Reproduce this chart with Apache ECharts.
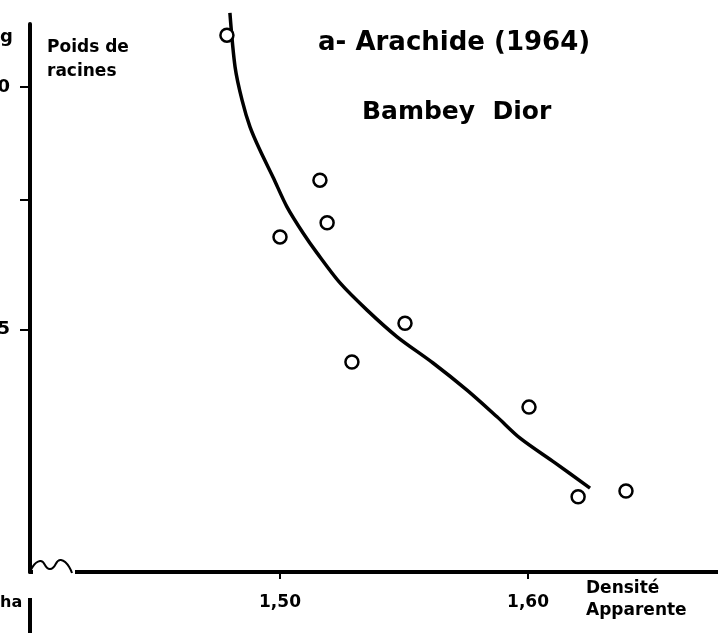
<!DOCTYPE html>
<html>
<head>
<meta charset="utf-8">
<script src="https://cdn.jsdelivr.net/npm/echarts@6/dist/echarts.min.js"></script>
<style>
html,body{margin:0;padding:0;background:#fff;}
#chart{width:718px;height:633px;}
</style>
</head>
<body>
<div id="chart"></div>
<script>
// Observed points (densité apparente, poids de racines)
const densite = [1.4786, 1.5000, 1.5161, 1.5190, 1.5290, 1.5504, 1.6004, 1.6202, 1.6395];
const poids   = [11.07, 6.91, 8.08, 7.20, 4.33, 5.13, 3.40, 1.55, 1.67];

// Fitted curve
const courbeX = [1.4798, 1.4819, 1.4847, 1.4879, 1.4919, 1.4972, 1.5028, 1.5093, 1.5149, 1.5242, 1.5351, 1.5472, 1.5617, 1.5754, 1.5875, 1.5968, 1.6109, 1.6250];
const courbeY = [11.53, 10.41, 9.73, 9.18, 8.70, 8.14, 7.53, 6.99, 6.58, 5.96, 5.40, 4.85, 4.31, 3.75, 3.20, 2.76, 2.25, 1.73];

// Axis ticks and labels
const xTicks = [1.50, 1.60];
const yTicks = [5, 7.67, 10];
const yLabels = [5, 10];

const FONT = 'DejaVu Sans';

const chart = echarts.init(document.getElementById('chart'), null, {renderer: 'canvas'});

const option = {
  animation: false,
  backgroundColor: '#ffffff',
  grid: {left: 30, right: 0, top: 24, bottom: 61, containLabel: false, outerBoundsMode: 'none'},
  xAxis: {
    type: 'value',
    min: 1.3992,
    max: 1.6766,
    splitLine: {show: false},
    axisLine: {show: true, lineStyle: {color: '#000', width: 4}},
    axisTick: {show: true, customValues: xTicks, length: 7, lineStyle: {color: '#000', width: 2}},
    axisLabel: {
      show: true, customValues: xTicks, margin: 22,
      formatter: v => v.toFixed(2).replace('.', ','),
      color: '#000', fontFamily: FONT, fontWeight: 'bold', fontSize: 17
    }
  },
  yAxis: {
    type: 'value',
    min: 0,
    max: 11.3,
    splitLine: {show: false},
    axisLine: {show: true, lineStyle: {color: '#000', width: 4}},
    axisTick: {show: true, customValues: yTicks, length: 10, lineStyle: {color: '#000', width: 2}},
    axisLabel: {
      show: true, customValues: yLabels, margin: 20,
      color: '#000', fontFamily: FONT, fontWeight: 'bold', fontSize: 18
    }
  },
  series: [
    {
      type: 'line',
      data: courbeX.map((x, i) => [x, courbeY[i]]),
      smooth: 0.3,
      showSymbol: false,
      clip: false,
      lineStyle: {color: '#000', width: 3.5},
      z: 2
    },
    {
      type: 'scatter',
      data: densite.map((x, i) => [x, poids[i]]),
      symbol: 'circle',
      symbolSize: 13,
      itemStyle: {color: '#fff', borderColor: '#000', borderWidth: 2.5, opacity: 1},
      z: 3
    }
  ],
  graphic: [
    // axis break: hide the start of the x axis and draw a wave
    {type: 'rect', z: 100, shape: {x: 33, y: 565, width: 42, height: 14}, style: {fill: '#fff'}},
    {type: 'polyline', z: 101, shape: {points: [[30, 572], [40, 561], [50, 569], [61, 560], [72, 573]], smooth: 0.6},
     style: {stroke: '#000', lineWidth: 2, fill: null}},
    // titles
    {type: 'text', z: 100, left: 318, top: 30, style: {text: 'a- Arachide (1964)', fontFamily: FONT, fontWeight: 'bold', fontSize: 26, fill: '#000'}},
    {type: 'text', z: 100, left: 362, top: 100, style: {text: 'Bambey  Dior', fontFamily: FONT, fontWeight: 'bold', fontSize: 25, fill: '#000'}},
    // axis names
    {type: 'text', z: 100, left: 47, top: 36, style: {text: 'Poids de\nracines', fontFamily: FONT, fontWeight: 'bold', fontSize: 17, fill: '#000', lineHeight: 24}},
    {type: 'text', z: 100, left: 586, top: 578, style: {text: 'Densité\nApparente', fontFamily: FONT, fontWeight: 'bold', fontSize: 17, fill: '#000', lineHeight: 22, align: 'center'}},
    // cropped unit marks at the edge
    {type: 'text', z: 100, left: 0, top: 28, style: {text: 'g', fontFamily: FONT, fontWeight: 'bold', fontSize: 18, fill: '#000'}},
    {type: 'text', z: 100, left: 0, top: 595, style: {text: 'ha', fontFamily: FONT, fontWeight: 'bold', fontSize: 16, fill: '#000'}},
    {type: 'line', z: 100, shape: {x1: 30, y1: 598, x2: 30, y2: 633}, style: {stroke: '#000', lineWidth: 4}}
  ]
};

chart.setOption(option);
</script>
</body>
</html>
